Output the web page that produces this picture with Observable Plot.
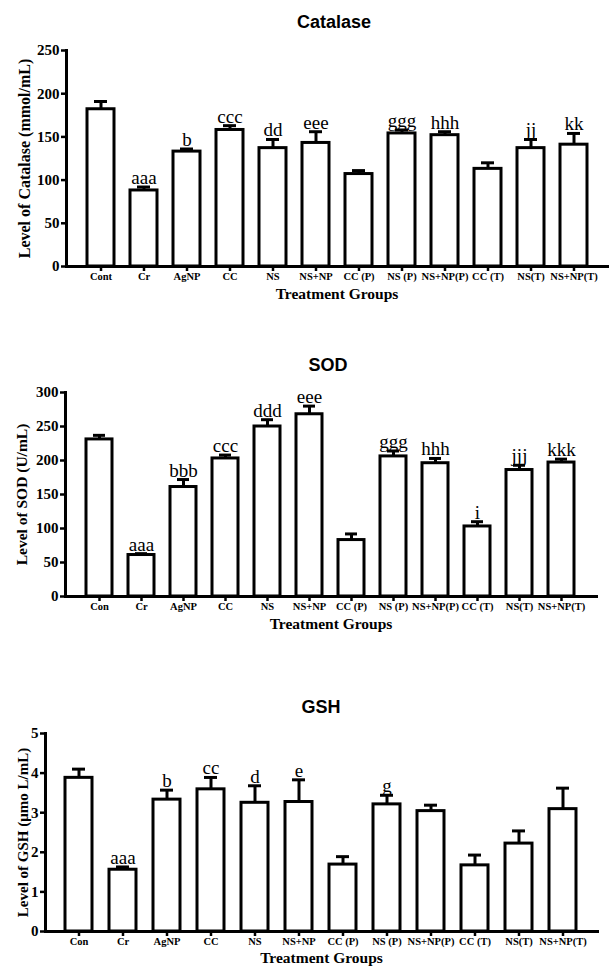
<!DOCTYPE html>
<html><head><meta charset="utf-8">
<script src="https://cdn.jsdelivr.net/npm/d3@7"></script>
<script src="https://cdn.jsdelivr.net/npm/@observablehq/plot@0.6"></script>
<style>
body{margin:0;background:#fff;width:609px;height:968px;position:relative;overflow:hidden}
.title{position:absolute;font:bold 18px "Liberation Sans",Arial,sans-serif;transform:translate(-50%,-50%);white-space:nowrap;color:#000}
.panel{position:absolute;left:0}
</style></head><body>
<div class="title" style="left:334px;top:22px">Catalase</div>
<div id="p1" class="panel" style="top:40px"></div>
<div class="title" style="left:328px;top:365px">SOD</div>
<div id="p2" class="panel" style="top:380px"></div>
<div class="title" style="left:321px;top:707px">GSH</div>
<div id="p3" class="panel" style="top:722px"></div>
<script>
const catalaseGroups = ["Cont","Cr","AgNP","CC","NS","NS+NP","CC (P)","NS (P)","NS+NP(P)","CC (T)","NS(T)","NS+NP(T)"];
const catalaseMean = [182, 88, 133, 158, 137, 143, 107, 154, 152, 113, 137, 141];
const catalaseUpper = [191, 92, 136, 163, 147, 156, 111, 158, 156, 120, 147, 154];
const catalaseSig = ["", "aaa", "b", "ccc", "dd", "eee", "", "ggg", "hhh", "", "jj", "kk"];
const catalaseTicks = [0, 50, 100, 150, 200, 250];

const sodGroups = ["Con","Cr","AgNP","CC","NS","NS+NP","CC (P)","NS (P)","NS+NP(P)","CC (T)","NS(T)","NS+NP(T)"];
const sodMean = [231, 61, 161, 203, 250, 268, 83, 206, 196, 103, 186, 197];
const sodUpper = [237, 63, 172, 208, 260, 280, 92, 214, 203, 110, 193, 202];
const sodSig = ["", "aaa", "bbb", "ccc", "ddd", "eee", "", "ggg", "hhh", "i", "jjj", "kkk"];
const sodTicks = [0, 50, 100, 150, 200, 250, 300];

const gshGroups = ["Con","Cr","AgNP","CC","NS","NS+NP","CC (P)","NS (P)","NS+NP(P)","CC (T)","NS(T)","NS+NP(T)"];
const gshMean = [3.88, 1.56, 3.33, 3.59, 3.25, 3.27, 1.69, 3.21, 3.04, 1.67, 2.22, 3.09];
const gshUpper = [4.10, 1.63, 3.57, 3.89, 3.68, 3.83, 1.89, 3.44, 3.19, 1.93, 2.54, 3.62];
const gshSig = ["", "aaa", "b", "cc", "d", "e", "", "g", "", "", "", ""];
const gshTicks = [0, 1, 2, 3, 4, 5];

const serif = '"Liberation Serif", "Times New Roman", Times, serif';

function panel(o) {
  const data = o.groups.map((g, i) => ({group: g, mean: o.mean[i], upper: o.upper[i], sig: o.sig[i]}));
  return Plot.plot({
    width: 609, height: o.height,
    marginTop: o.marginTop, marginBottom: o.marginBottom,
    marginLeft: o.marginLeft, marginRight: o.marginRight,
    style: {fontFamily: serif, background: "white", color: "black", overflow: "visible"},
    x: {domain: o.groups, padding: 0.38, axis: null},
    y: {domain: [o.ticks[0], o.ticks[o.ticks.length - 1]], axis: null},
    marks: [
      Plot.ruleX(data, {x: "group", y1: "mean", y2: "upper", stroke: "black", strokeWidth: 3}),
      Plot.tickY(data, {x: "group", y: "upper", stroke: "black", strokeWidth: 3, inset: 7}),
      Plot.barY(data, {x: "group", y: "mean", fill: "white", stroke: "black", strokeWidth: 3}),
      Plot.text(data, {x: "group", y: "upper", text: "sig", dy: -3, lineAnchor: "bottom", fontSize: 19, fill: "black"}),
      Plot.axisY({ticks: o.ticks, tickSize: 5, tickPadding: 2, tickFormat: d => String(d), fontSize: 15, fontWeight: "bold", strokeWidth: 2.5, label: null}),
      Plot.axisX({tickSize: 5, tickPadding: 1, fontSize: 10.5, fontWeight: "bold", strokeWidth: 2.5, label: null}),
      Plot.frame({anchor: "left", stroke: "black", strokeWidth: 3}),
      Plot.frame({anchor: "bottom", stroke: "black", strokeWidth: 3}),
      Plot.text([o.yLabel], {text: d => d, frameAnchor: "left", textAnchor: "middle", dx: o.yLabelDx, rotate: -90, fontSize: o.yLabelSize, fontWeight: "bold", fill: "black"}),
      Plot.text(["Treatment Groups"], {text: d => d, frameAnchor: "bottom", dy: o.xLabelDy, fontSize: 15.5, fontWeight: "bold", fill: "black"})
    ]
  });
}

document.getElementById("p1").append(panel({
  groups: catalaseGroups, mean: catalaseMean, upper: catalaseUpper, sig: catalaseSig, ticks: catalaseTicks,
  height: 270, marginTop: 10, marginBottom: 44, marginLeft: 66, marginRight: 2,
  yLabel: "Level of Catalase (mmol/mL)", yLabelDx: -42, yLabelSize: 16, xLabelDy: 32
}));
document.getElementById("p2").append(panel({
  groups: sodGroups, mean: sodMean, upper: sodUpper, sig: sodSig, ticks: sodTicks,
  height: 270, marginTop: 12, marginBottom: 54, marginLeft: 65, marginRight: 13,
  yLabel: "Level of SOD (U/mL)", yLabelDx: -43, yLabelSize: 15.5, xLabelDy: 32
}));
document.getElementById("p3").append(panel({
  groups: gshGroups, mean: gshMean, upper: gshUpper, sig: gshSig, ticks: gshTicks,
  height: 246, marginTop: 11, marginBottom: 37, marginLeft: 45, marginRight: 12,
  yLabel: "Level of GSH (μmo L/mL)", yLabelDx: -22, yLabelSize: 15, xLabelDy: 31
}));
</script>
</body></html>
